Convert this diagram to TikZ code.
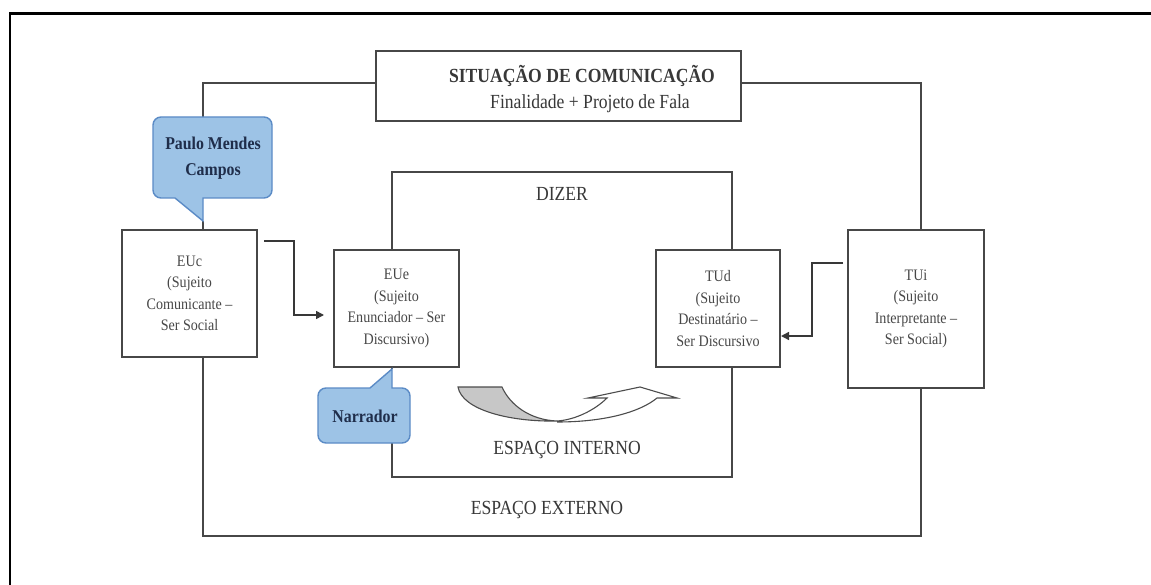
\documentclass[tikz,border=0pt]{standalone}
\usepackage{fontspec}
\setmainfont{Liberation Serif}[FakeStretch=0.88]
\usetikzlibrary{arrows.meta,calc}
\definecolor{cfill}{HTML}{9DC3E6}
\definecolor{cline}{HTML}{5B8BC6}
\definecolor{ctext}{HTML}{1F2D4A}
\tikzset{
  ln/.style={draw=black!72,line width=1.6pt},
  boxn/.style={draw=black!72,line width=1.6pt,fill=white,inner sep=0pt,align=center,text=black!72,font=\fontsize{16}{21.5}\selectfont},
  arr/.style={draw=black!78,line width=1.5pt,-{Triangle[length=8pt,width=8pt]}},
  big/.style={inner sep=0pt,text=black!78,font=\fontsize{20}{24}\selectfont},
  callout/.style={draw=cline,line width=1.4pt,fill=cfill},
  ctxt/.style={inner sep=0pt,align=center,text=ctext,font=\bfseries\fontsize{18}{26}\selectfont}
}
\begin{document}
\begin{tikzpicture}[x=1pt,y=-1pt]
\useasboundingbox (0,0) rectangle (1151,585);
\fill[white] (0,0) rectangle (1151,585);
% outer frame
\draw[black,line width=2.6pt] (10,585) -- (10,13.5) -- (1151,13.5);

% coordinates of the two frames
\coordinate (otl) at (203,83);
\coordinate (otr) at (921,83);
\coordinate (obl) at (203,536);
\coordinate (obr) at (921,536);
\coordinate (itl) at (392,172);
\coordinate (itr) at (732,172);
\coordinate (ibl) at (392,477);
\coordinate (ibr) at (732,477);
\coordinate (ptop) at (203,117);
\coordinate (ptip) at (203,221);
\coordinate (ntip) at (392,369);
\coordinate (nbot) at (392,443);

% boxes
\node[boxn,minimum width=365pt,minimum height=70pt] (sit) at (558.5,86) {};
\node[big,font=\bfseries\fontsize{20}{24}\selectfont] (title) at (582,76) {SITUAÇÃO DE COMUNICAÇÃO};
\node[big] (fin) at (590,104) {Finalidade + Projeto de Fala};

\node[boxn,minimum width=135pt,minimum height=127pt] (EUc) at (189.5,293.5) {EUc\\(Sujeito\\Comunicante –\\Ser Social};
\node[boxn,minimum width=125pt,minimum height=117pt] (EUe) at (396.5,308.5) {EUe\\(Sujeito\\Enunciador – Ser\\Discursivo)};
\node[boxn,minimum width=124pt,minimum height=117pt] (TUd) at (718,308.5) {TUd\\(Sujeito\\Destinatário –\\Ser Discursivo};
\node[boxn,minimum width=136pt,minimum height=158pt] (TUi) at (916,309) {TUi\\(Sujeito\\Interpretante –\\Ser Social)};

% outer frame (espaço externo)
\draw[ln] (ptop) -- (otl) -- (otl -| sit.west);
\draw[ln] (otr -| sit.east) -- (otr) -- (otr |- TUi.north);
\draw[ln] (otr |- TUi.south) -- (obr) -- (obl) -- (obl |- EUc.south);
\draw[ln] (ptip) -- (ptip |- EUc.north);

% inner frame (espaço interno)
\draw[ln] (itl |- EUe.north) -- (itl) -- (itr) -- (itr |- TUd.north);
\draw[ln] (itr |- TUd.south) -- (ibr) -- (ibl) -- (nbot);
\draw[ln] (ntip) -- (ntip |- EUe.south);

% callouts
\draw[callout] (175,198) -- (161,198) .. controls (156.6,198) and (153,194.4) .. (153,190)
  -- (153,125) .. controls (153,120.6) and (156.6,117) .. (161,117)
  -- (264,117) .. controls (268.4,117) and (272,120.6) .. (272,125)
  -- (272,190) .. controls (272,194.4) and (268.4,198) .. (264,198)
  -- (203,198) -- (ptip) -- cycle;
\node[ctxt] (paulo) at (213,158) {Paulo Mendes\\Campos};

\draw[callout] (370,388) -- (326,388) .. controls (321.6,388) and (318,391.6) .. (318,396)
  -- (318,435) .. controls (318,439.4) and (321.6,443) .. (326,443)
  -- (402,443) .. controls (406.4,443) and (410,439.4) .. (410,435)
  -- (410,396) .. controls (410,391.6) and (406.4,388) .. (402,388)
  -- (392,388) -- (ntip) -- cycle;
\node[ctxt] (narr) at (365,416) {Narrador};

% arrows between boxes
\coordinate (a1s) at (264,241);
\coordinate (a1e) at (324,315);
\draw[arr] (a1s) -| ($(a1s)!0.5!(a1e)$) |- (a1e);
\coordinate (a2s) at (843,263);
\coordinate (a2e) at (781,336);
\draw[arr] (a2s) -| ($(a2s)!0.5!(a2e)$) |- (a2e);

% curved arrow
\filldraw[fill=black!22,draw=black!70,line width=1.1pt]
  (458,387) -- (502,387) .. controls (510,405) and (530,420) .. (557,421)
  .. controls (510,422) and (462,410) .. (458,387) -- cycle;
\filldraw[fill=white,draw=black!70,line width=1.1pt]
  (557,422) .. controls (605,422) and (640,412) .. (657,398) -- (677,398) -- (640,387)
  -- (588,398) -- (607,398) .. controls (595,410) and (575,420) .. (557,421);

% labels
\node[big] (dizer) at (562,194) {DIZER};
\node[big] (espint) at (567,450) {ESPAÇO INTERNO};
\node[big] (espext) at (547,510) {ESPAÇO EXTERNO};
\end{tikzpicture}
\end{document}
